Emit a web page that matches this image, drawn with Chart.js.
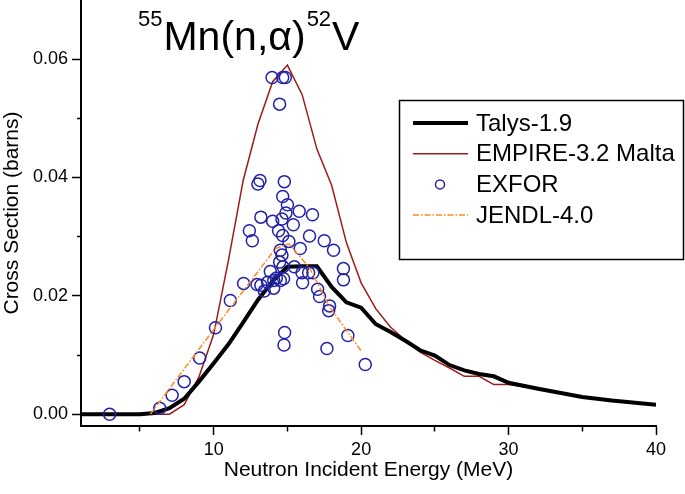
<!DOCTYPE html>
<html>
<head>
<meta charset="utf-8">
<script src="https://cdn.jsdelivr.net/npm/chart.js"></script>
<style>
  body { margin: 0; background: #fff; }
  canvas { display: block; }
</style>
</head>
<body>
<canvas id="myChart" width="685" height="494"></canvas>

<script>
const FONT = "'Liberation Sans', Arial, sans-serif";

// Talys-1.9
const talysE  = [1, 5, 6, 7, 8, 9, 10, 11, 12, 13, 14, 15, 16, 17, 18, 19, 20, 21, 22, 23, 24, 25, 26, 27, 28, 29, 30, 32, 35, 37, 40];
const talysXS = [0, 0, 0.0002, 0.001, 0.0026, 0.0055, 0.0086, 0.0118, 0.0155, 0.0193, 0.0225, 0.0249, 0.025, 0.025, 0.0215, 0.0189, 0.018, 0.0152, 0.0139, 0.0124, 0.0108, 0.0099, 0.0083, 0.0074, 0.0068, 0.0064, 0.0053, 0.0043, 0.0029, 0.0023, 0.0016];

// EMPIRE-3.2 Malta
const empireE  = [1, 7, 8, 9, 10, 11, 12, 13, 14, 15, 16, 17, 18, 19, 20, 21, 22, 23, 24, 25, 26, 27, 28, 29, 30, 32, 35, 37, 40];
const empireXS = [0, 0, 0.0016, 0.0063, 0.0135, 0.026, 0.0395, 0.049, 0.0562, 0.059, 0.054, 0.0448, 0.0387, 0.029, 0.0222, 0.0178, 0.0147, 0.0125, 0.0105, 0.0091, 0.0078, 0.0064, 0.0064, 0.005, 0.005, 0.0043, 0.0029, 0.0023, 0.0016];

// JENDL-4.0
const jendlE  = [5.7, 10, 14.2, 15.1, 16.5, 17.9, 20];
const jendlXS = [0, 0.0143, 0.028, 0.0288, 0.0247, 0.018, 0.0107];

// EXFOR measurements
const exforE  = [2.94, 6.34, 7.18, 8.0, 9.05, 10.12, 11.13, 12.03, 12.42, 12.62, 12.94, 13.2, 13.43, 13.66, 13.84, 14.07, 14.07, 14.25, 14.52, 14.74,
                 14.7, 14.47, 14.63, 14.52, 14.4, 14.68, 15.1, 15.87, 15.47, 15.99, 16.44, 16.73, 16.03, 16.5, 17.5, 18.13, 18.8, 18.8, 17.05, 17.18,
                 17.86, 17.8, 19.1, 17.68, 20.28, 14.81, 14.77, 13.2, 14.0, 14.63, 15.4, 14.9, 15.0, 15.8, 16.7, 14.68, 13.14, 13.0, 14.79, 14.47,
                 13.96, 14.68, 14.86];
const exforXS = [0, 0.001, 0.0032, 0.0055, 0.0095, 0.0146, 0.0192, 0.0221, 0.031, 0.0293, 0.0219, 0.0218, 0.0208, 0.0223, 0.0241, 0.0226, 0.0213, 0.023, 0.0226, 0.0229,
                 0.0249, 0.0257, 0.0269, 0.0277, 0.031, 0.0302, 0.0292, 0.028, 0.0249, 0.0239, 0.0239, 0.0239, 0.0222, 0.0301, 0.0293, 0.0277, 0.0246, 0.0227, 0.0211, 0.0199,
                 0.0183, 0.0175, 0.0133, 0.0111, 0.0084, 0.0138, 0.0117, 0.0333, 0.0326, 0.033, 0.032, 0.034, 0.0354, 0.0343, 0.0337, 0.0368, 0.0395, 0.0389, 0.0393, 0.0524,
                 0.0569, 0.0569, 0.0569];

const xTicks = [5, 10, 15, 20, 25, 30, 35, 40];
const yTicks = [0, 0.01, 0.02, 0.03, 0.04, 0.05, 0.06];

const pts = (xs, ys) => xs.map((x, i) => ({ x: x, y: ys[i] }));
const isMajorX = v => Math.round(v) % 10 === 0;
const isMajorY = v => Math.round(v * 100) % 2 === 0;

// title with superscripts
const titlePlugin = {
  id: 'bigTitle',
  afterDraw(chart) {
    const c = chart.ctx;
    const parts = [['55', 22, 26], ['Mn(n,\u03b1)', 41, 50], ['52', 22, 26], ['V', 41, 50]];
    let x = 138;
    c.save();
    c.fillStyle = '#000';
    c.textBaseline = 'alphabetic';
    c.textAlign = 'left';
    parts.forEach(p => {
      c.font = p[1] + 'px ' + FONT;
      c.fillText(p[0], x, p[2]);
      x += c.measureText(p[0]).width + 1;
    });
    c.restore();
  }
};

// boxed legend inside the plot
const boxLegend = {
  id: 'boxLegend',
  afterDraw(chart) {
    const c = chart.ctx;
    c.save();
    c.strokeStyle = '#000';
    c.lineWidth = 1.5;
    c.strokeRect(399.5, 100.5, 284, 159);
    c.font = '24px ' + FONT;
    c.textBaseline = 'middle';
    c.fillStyle = '#000';
    chart.data.datasets.forEach((ds, i) => {
      const y = 123 + i * 30.7;
      if (ds.showLine === false) {
        c.beginPath();
        c.strokeStyle = ds.borderColor;
        c.lineWidth = 1.5;
        c.arc(440, y, 4.5, 0, Math.PI * 2);
        c.stroke();
      } else {
        c.beginPath();
        c.strokeStyle = ds.borderColor;
        c.lineWidth = ds.borderWidth;
        c.setLineDash(ds.borderDash || []);
        c.moveTo(413, y);
        c.lineTo(468, y);
        c.stroke();
        c.setLineDash([]);
      }
      c.fillText(ds.label, 476, y + 1);
    });
    c.restore();
  }
};

new Chart(document.getElementById('myChart'), {
  type: 'line',
  data: {
    datasets: [
      {
        label: 'Talys-1.9',
        data: pts(talysE, talysXS),
        borderColor: '#000000',
        borderWidth: 4,
        pointRadius: 0,
        order: 2
      },
      {
        label: 'EMPIRE-3.2 Malta',
        data: pts(empireE, empireXS),
        borderColor: '#9e1b1b',
        borderWidth: 1.5,
        pointRadius: 0,
        order: 3
      },
      {
        label: 'EXFOR',
        data: pts(exforE, exforXS),
        showLine: false,
        borderColor: '#2222a8',
        backgroundColor: 'rgba(0,0,0,0)',
        pointStyle: 'circle',
        pointRadius: 6,
        pointBorderWidth: 1.5,
        order: 1
      },
      {
        label: 'JENDL-4.0',
        data: pts(jendlE, jendlXS),
        borderColor: '#ff8a1c',
        borderWidth: 1.5,
        borderDash: [6, 2, 1.5, 2],
        pointRadius: 0,
        order: 0
      }
    ]
  },
  options: {
    responsive: false,
    animation: false,
    layout: { autoPadding: false, padding: { left: 0, right: 29, top: 0, bottom: 0 } },
    plugins: {
      legend: { display: false },
      tooltip: { enabled: false }
    },
    scales: {
      x: {
        type: 'linear',
        min: 1,
        max: 40,
        afterFit: s => { s.height = 68; s.paddingLeft = 0; s.paddingRight = 0; },
        afterBuildTicks: s => { s.ticks = xTicks.map(v => ({ value: v })); },
        border: { display: true, color: '#000', width: 2 },
        grid: {
          drawOnChartArea: false,
          drawTicks: true,
          tickLength: 9,
          tickWidth: 1.5,
          tickColor: '#000',
          tickBorderDash: ctx => isMajorX(ctx.tick.value) ? [] : [4.5, 20]
        },
        ticks: {
          color: '#000',
          font: { family: FONT, size: 18 },
          padding: 4,
          maxRotation: 0,
          autoSkip: false,
          callback: v => isMajorX(v) ? String(v) : ''
        },
        title: {
          display: true,
          text: 'Neutron Incident Energy (MeV)',
          color: '#000',
          font: { family: FONT, size: 21 },
          padding: { top: 0, bottom: 11 }
        }
      },
      y: {
        type: 'linear',
        min: -0.002,
        max: 0.07,
        afterFit: s => { s.width = 81; s.paddingTop = 0; s.paddingBottom = 0; },
        afterBuildTicks: s => { s.ticks = yTicks.map(v => ({ value: v })); },
        border: { display: true, color: '#000', width: 2 },
        grid: {
          drawOnChartArea: false,
          drawTicks: true,
          tickLength: 9,
          tickWidth: 1.5,
          tickColor: '#000',
          tickBorderDash: ctx => isMajorY(ctx.tick.value) ? [] : [5, 5],
          tickBorderDashOffset: ctx => isMajorY(ctx.tick.value) ? 0 : 5
        },
        ticks: {
          color: '#000',
          font: { family: FONT, size: 18 },
          padding: 4,
          autoSkip: false,
          callback: v => isMajorY(v) ? v.toFixed(2) : ''
        },
        title: {
          display: true,
          text: 'Cross Section (barns)',
          color: '#000',
          font: { family: FONT, size: 21 },
          padding: { top: 0, bottom: 0 }
        }
      }
    }
  },
  plugins: [titlePlugin, boxLegend]
});
</script>
</body>
</html>
